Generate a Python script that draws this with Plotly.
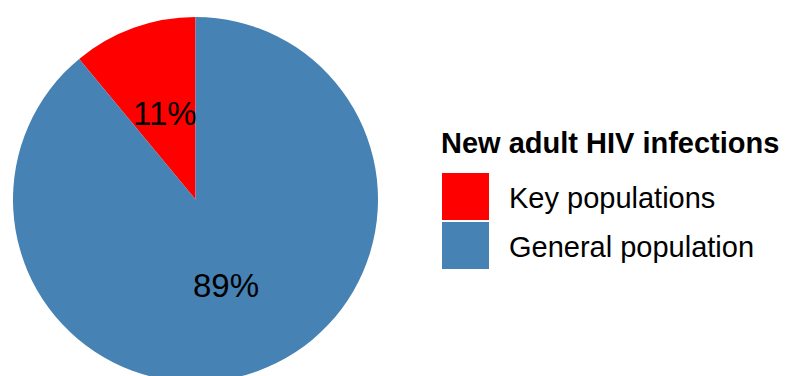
import math
import plotly.graph_objects as go

# Data
categories = ["Key populations", "General population"]
values = [11, 89]
colors = ["#FF0000", "#4682B4"]
legend_title = "New adult HIV infections"

# Layout constants (pixels)
W, H = 791, 384          # figure slightly taller than window so pie is cropped at the bottom
CX, CY, R = 195.5, 199.5, 182.5

def px_x(x):
    return x / W

def px_y(y):
    return 1 - y / H

total = sum(values)
# Slices laid out clockwise, rotated so the first slice ends at 12 o'clock
rotation = -360 * values[0] / total

fig = go.Figure()
fig.add_trace(go.Pie(
    labels=categories,
    values=values,
    marker=dict(colors=colors, line=dict(width=0)),
    sort=False,
    direction="clockwise",
    rotation=rotation,
    textinfo="none",
    hoverinfo="label+percent",
    showlegend=False,
    domain=dict(x=[px_x(CX - R), px_x(CX + R)], y=[px_y(CY + R), px_y(CY - R)]),
))

annotations = []
# Percentage labels at half radius, mid-angle of each slice (counterclockwise from 12 o'clock)
cum = 0
for v in values:
    frac_mid = (cum + v / 2) / total
    cum += v
    ang = 2 * math.pi * frac_mid
    r = R * 0.5
    x = CX - r * math.sin(ang)
    y = CY - r * math.cos(ang)
    annotations.append(dict(
        x=px_x(x), y=px_y(y), xref="paper", yref="paper",
        text=f"{round(100 * v / total)}%", showarrow=False,
        xanchor="center", yanchor="middle",
        font=dict(family="Liberation Sans, Arial, sans-serif", size=33, color="black"),
    ))

# Manual legend
LX, LTY = 441, 143
KEY_Y0, KEY_SIZE, KEY_GAP = 173, 47, 2
annotations.append(dict(
    x=px_x(LX - 2), y=px_y(LTY), xref="paper", yref="paper",
    text=f"<b>{legend_title}</b>", showarrow=False,
    xanchor="left", yanchor="middle",
    font=dict(family="Liberation Sans, Arial, sans-serif", size=29, color="black"),
))
shapes = []
for i, (lab, col) in enumerate(zip(categories, colors)):
    y0 = KEY_Y0 + i * (KEY_SIZE + KEY_GAP)
    shapes.append(dict(
        type="rect", xref="paper", yref="paper",
        x0=px_x(LX + 1), x1=px_x(LX + 1 + KEY_SIZE),
        y0=px_y(y0 + KEY_SIZE), y1=px_y(y0),
        fillcolor=col, line=dict(width=0),
    ))
    annotations.append(dict(
        x=px_x(507), y=px_y(y0 + KEY_SIZE / 2 + 1), xref="paper", yref="paper",
        text=lab, showarrow=False, xanchor="left", yanchor="middle",
        font=dict(family="Liberation Sans, Arial, sans-serif", size=29, color="black"),
    ))

fig.update_layout(
    width=W, height=H,
    margin=dict(l=0, r=0, t=0, b=0, pad=0),
    paper_bgcolor="white", plot_bgcolor="white",
    annotations=annotations, shapes=shapes,
    showlegend=False,
)

fig.write_html(
    "out.html",
    config={"displayModeBar": False},
    post_script="document.body.style.margin='0';document.body.style.overflow='hidden';document.documentElement.style.overflow='hidden';",
)
